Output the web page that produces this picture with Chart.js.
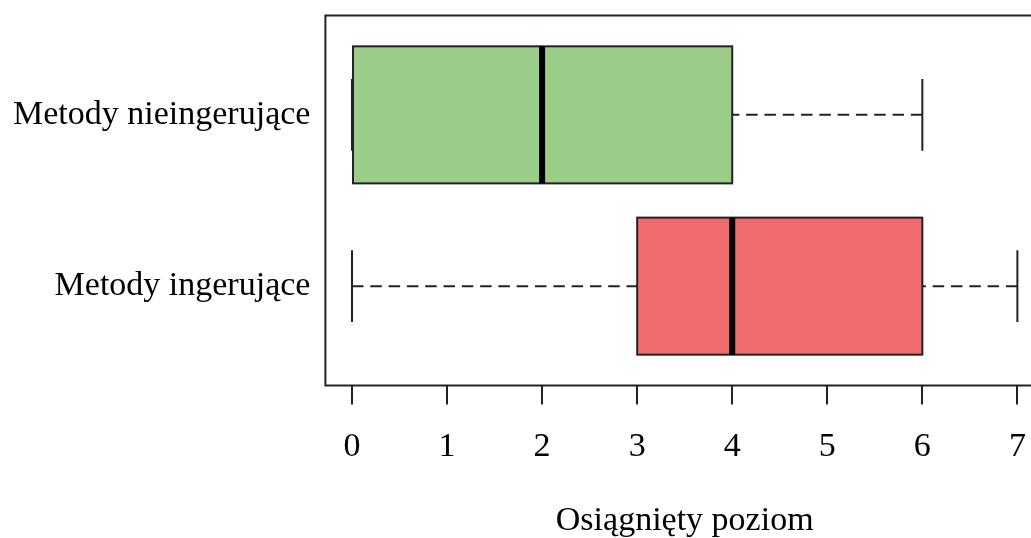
<!DOCTYPE html>
<html>
<head>
<meta charset="utf-8">
<script src="https://cdn.jsdelivr.net/npm/chart.js@4/dist/chart.umd.min.js"></script>
<style>
  html, body { margin: 0; padding: 0; background: #fff; overflow: hidden; }
  #wrap { width: 1044px; height: 538px; }
</style>
</head>
<body>
<div id="wrap"><canvas id="c" width="1044" height="538"></canvas></div>
<script>
// Group names (bottom to top) and their five-number summaries
const categories = ['Metody ingerujące', 'Metody nieingerujące'];
const positions = [1, 2];
const mins    = [0, 0];
const q1s     = [3, 0];
const medians = [4, 2];
const q3s     = [6, 4];
const maxs    = [7, 6];
const boxColors = ['#f06b6e', '#9ccd88'];
const xTicks = [0, 1, 2, 3, 4, 5, 6, 7];
const xTitle = 'Osiągnięty poziom';

const FONT = 'Liberation Serif, Times New Roman, serif';
const INK = '#222222';
const BOX_HALF = 0.4;    // half box height in y-units
const STAPLE_HALF = 0.21;

// Keep the plot area fixed: no extra room for labels at the axis ends
function noEdgePadding(s) {
  s.paddingTop = 0; s.paddingBottom = 0; s.paddingLeft = 0; s.paddingRight = 0;
}

// Whiskers, staples, box outlines, medians and the surrounding frame
const boxplotExtras = {
  id: 'boxplotExtras',
  afterDatasetsDraw(chart) {
    const { ctx, chartArea, scales } = chart;
    const xs = scales.x, ys = scales.y;
    const bars = chart.getDatasetMeta(0).data;
    ctx.save();
    positions.forEach((p, i) => {
      const yc = ys.getPixelForValue(p);
      const sTop = ys.getPixelForValue(p + STAPLE_HALF);
      const sBot = ys.getPixelForValue(p - STAPLE_HALF);
      // dashed whiskers, drawn from the outer ends inward
      ctx.strokeStyle = INK;
      ctx.lineWidth = 2;
      ctx.setLineDash([11.5, 6.8]);
      ctx.beginPath();
      ctx.moveTo(xs.getPixelForValue(mins[i]), yc);
      ctx.lineTo(xs.getPixelForValue(q1s[i]), yc);
      ctx.stroke();
      ctx.beginPath();
      ctx.moveTo(xs.getPixelForValue(maxs[i]), yc);
      ctx.lineTo(xs.getPixelForValue(q3s[i]), yc);
      ctx.stroke();
      // staples
      ctx.setLineDash([]);
      ctx.beginPath();
      [mins[i], maxs[i]].forEach(v => {
        const x = xs.getPixelForValue(v);
        ctx.moveTo(x, sTop);
        ctx.lineTo(x, sBot);
      });
      ctx.stroke();
      // box outline around the bar element
      const el = bars[i];
      const left = Math.min(el.x, el.base), right = Math.max(el.x, el.base);
      ctx.strokeRect(left, el.y - el.height / 2, right - left, el.height);
      // median
      const xm = xs.getPixelForValue(medians[i]);
      ctx.strokeStyle = '#000';
      ctx.lineWidth = 6;
      ctx.beginPath();
      ctx.moveTo(xm, el.y - el.height / 2);
      ctx.lineTo(xm, el.y + el.height / 2);
      ctx.stroke();
    });
    // frame
    ctx.strokeStyle = INK;
    ctx.lineWidth = 2;
    ctx.strokeRect(chartArea.left, chartArea.top, chartArea.right - chartArea.left, chartArea.bottom - chartArea.top);
    ctx.restore();
  }
};

new Chart(document.getElementById('c'), {
  type: 'bar',
  data: {
    datasets: [{
      data: positions.map((p, i) => ({ y: p, x: [q1s[i], q3s[i]] })),
      backgroundColor: boxColors,
      borderWidth: 0,
      inflateAmount: 0,
      barPercentage: 2 * BOX_HALF,
      categoryPercentage: 1
    }]
  },
  options: {
    indexAxis: 'y',
    responsive: false,
    animation: false,
    layout: { padding: { top: 15.5, right: 0, bottom: 0, left: 0 } },
    plugins: { legend: { display: false }, tooltip: { enabled: false } },
    scales: {
      x: {
        type: 'linear',
        position: 'bottom',
        offset: false,
        min: -0.28,
        max: 7.28,
        afterBuildTicks: s => { s.ticks = xTicks.map(v => ({ value: v })); },
        afterFit: s => { s.height = 152.5; noEdgePadding(s); },
        border: { display: false },
        grid: { offset: false, drawOnChartArea: false, drawTicks: true, tickLength: 19, color: INK, lineWidth: 2 },
        ticks: {
          color: '#000',
          padding: 26,
          maxRotation: 0,
          autoSkip: false,
          font: { family: FONT, size: 34, lineHeight: 1 }
        },
        title: {
          display: true,
          text: xTitle,
          color: '#000',
          padding: { top: 0, bottom: 0 },
          font: { family: FONT, size: 34, lineHeight: 1 }
        }
      },
      y: {
        type: 'linear',
        position: 'left',
        offset: false,
        min: 0.42,
        max: 2.58,
        afterBuildTicks: s => { s.ticks = positions.map(v => ({ value: v })); },
        afterFit: s => { s.width = 325.4; noEdgePadding(s); },
        border: { display: false },
        grid: { offset: false, display: false, drawTicks: false, tickLength: 0 },
        ticks: {
          color: '#000',
          padding: 15,
          autoSkip: false,
          font: { family: FONT, size: 34, lineHeight: 1 },
          callback: v => categories[positions.indexOf(v)] ?? ''
        }
      }
    }
  },
  plugins: [boxplotExtras]
});
</script>
</body>
</html>
